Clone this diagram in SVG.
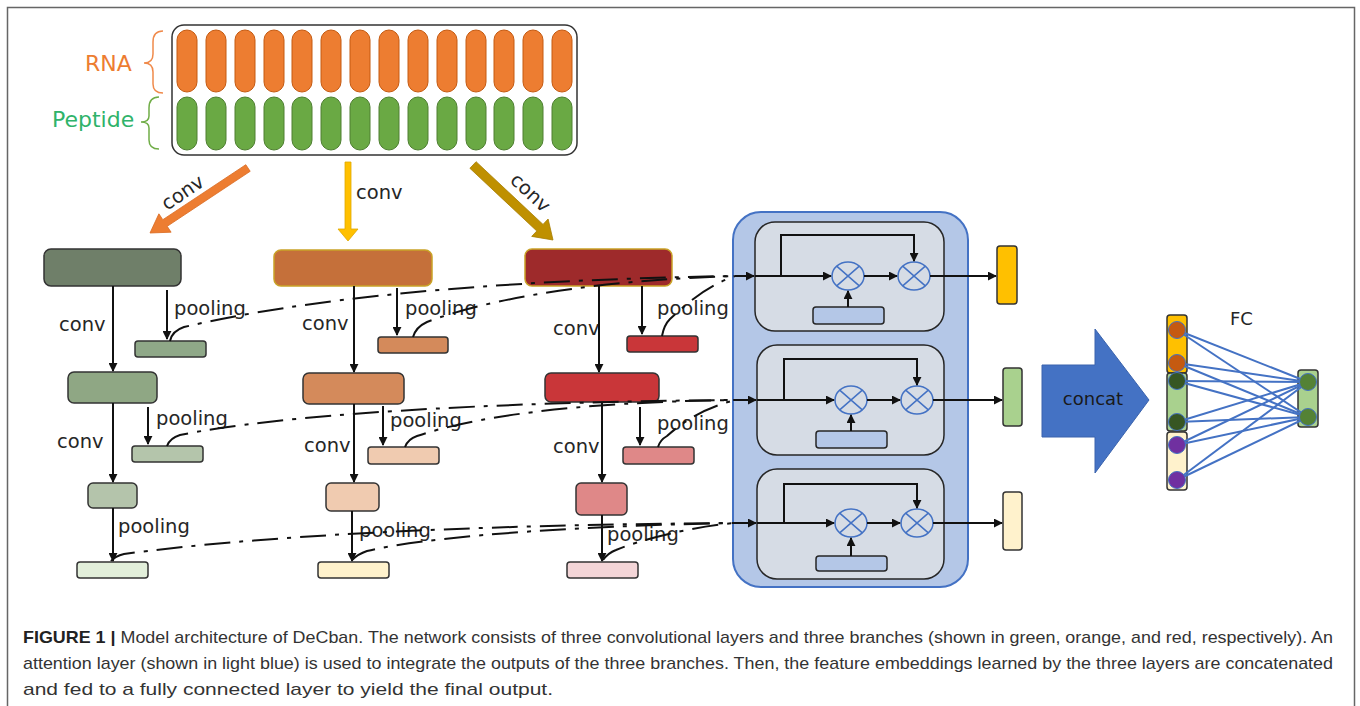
<svg xmlns="http://www.w3.org/2000/svg" width="1360" height="706" viewBox="0 0 1360 706">
<defs>
<style>
.lbl{font-family:"DejaVu Sans","Liberation Sans",sans-serif;font-size:19.5px;fill:#262626}
.box{stroke:#333;stroke-width:1.5}
.gold{stroke:#c9a227;stroke-width:1.5}
.arr{stroke:#111;stroke-width:2;fill:none;marker-end:url(#ah)}
.dd{stroke:#111;stroke-width:2;fill:none;stroke-dasharray:26 9 4 9}
.rna{fill:#ed7d31;stroke:#c55a11;stroke-width:1}
.pep{fill:#6aa944;stroke:#4e7f31;stroke-width:1}
.unit{fill:#d6dce5;stroke:#262626;stroke-width:1.5}
.att{fill:#b4c7e7;stroke:#262626;stroke-width:1.5}
.mul{fill:#d6dce5;stroke:#4472c4;stroke-width:1.5}
.fc{stroke:#4472c4;stroke-width:2}
.cap{font-family:"Liberation Sans Narrow","Liberation Sans",Arial,sans-serif;font-size:17px;fill:#333}
</style>
<marker id="ah" viewBox="0 0 10 10" refX="9" refY="5" markerWidth="4.5" markerHeight="4.5" orient="auto"><path d="M0,0 L10,5 L0,10 z" fill="#111"/></marker>
</defs>
<rect x="7.5" y="7.5" width="1347" height="720" fill="#fff" stroke="#666" stroke-width="1.5"/>

<g id="input">
<rect x="172" y="25" width="405" height="130" rx="12" fill="#fff" stroke="#333" stroke-width="1.5"/>
<g>
<rect class="rna" x="177" y="30" width="20" height="62" rx="10"/><rect class="rna" x="206" y="30" width="20" height="62" rx="10"/><rect class="rna" x="235" y="30" width="20" height="62" rx="10"/><rect class="rna" x="264" y="30" width="20" height="62" rx="10"/><rect class="rna" x="292" y="30" width="20" height="62" rx="10"/><rect class="rna" x="321" y="30" width="20" height="62" rx="10"/><rect class="rna" x="350" y="30" width="20" height="62" rx="10"/><rect class="rna" x="379" y="30" width="20" height="62" rx="10"/><rect class="rna" x="408" y="30" width="20" height="62" rx="10"/><rect class="rna" x="437" y="30" width="20" height="62" rx="10"/><rect class="rna" x="466" y="30" width="20" height="62" rx="10"/><rect class="rna" x="494" y="30" width="20" height="62" rx="10"/><rect class="rna" x="523" y="30" width="20" height="62" rx="10"/><rect class="rna" x="552" y="30" width="20" height="62" rx="10"/>
</g>
<g>
<rect class="pep" x="177" y="97" width="20" height="53" rx="10"/><rect class="pep" x="206" y="97" width="20" height="53" rx="10"/><rect class="pep" x="235" y="97" width="20" height="53" rx="10"/><rect class="pep" x="264" y="97" width="20" height="53" rx="10"/><rect class="pep" x="292" y="97" width="20" height="53" rx="10"/><rect class="pep" x="321" y="97" width="20" height="53" rx="10"/><rect class="pep" x="350" y="97" width="20" height="53" rx="10"/><rect class="pep" x="379" y="97" width="20" height="53" rx="10"/><rect class="pep" x="408" y="97" width="20" height="53" rx="10"/><rect class="pep" x="437" y="97" width="20" height="53" rx="10"/><rect class="pep" x="466" y="97" width="20" height="53" rx="10"/><rect class="pep" x="494" y="97" width="20" height="53" rx="10"/><rect class="pep" x="523" y="97" width="20" height="53" rx="10"/><rect class="pep" x="552" y="97" width="20" height="53" rx="10"/>
</g>
<path d="M163,31 C156,31 153,35 153,42 L153,54 C153,60 150,63 144,63 C150,63 153,66 153,72 L153,84 C153,90 156,93 163,93" fill="none" stroke="#f08a4b" stroke-width="1.5"/>
<path d="M159,97 C152,97 149,101 149,108 L149,116 C149,120 146,122 141,122 C146,122 149,124 149,128 L149,140 C149,146 152,149 159,149" fill="none" stroke="#70ad47" stroke-width="1.5"/>
<text x="85" y="71" style="font-family:'DejaVu Sans','Liberation Sans',sans-serif;font-size:22px;fill:#ed7d31">RNA</text>
<text x="52" y="127" style="font-family:'DejaVu Sans','Liberation Sans',sans-serif;font-size:22px;fill:#2fb36a">Peptide</text>
</g>

<g id="conv-arrows">
<polygon points="245.8,164.7 162.8,219.7 158.9,213.8 150,233 171.1,232.2 167.2,226.3 250.2,171.3" fill="#ed7d31" stroke="#d9691f" stroke-width="0.8"/>
<polygon points="345,162 345,229 338,229 348,241 358,229 351,229 351,162" fill="#ffc000" stroke="#e0a800" stroke-width="0.8"/>
<polygon points="476.1,161.7 543.0,224.4 548.1,219.0 553,240 531.7,236.4 536.8,231.0 469.9,168.3" fill="#bf9000" stroke="#a67c00" stroke-width="0.8"/>
<text class="lbl" text-anchor="middle" transform="translate(183,193) rotate(-34)" x="0" y="6">conv</text>
<text class="lbl" x="356" y="199">conv</text>
<text class="lbl" text-anchor="middle" transform="translate(530,193) rotate(43)" x="0" y="6">conv</text>
</g>

<g id="green-branch">
<rect class="box" x="44" y="249" width="137" height="37" rx="7" fill="#6f7f69"/>
<rect class="box" x="135" y="341" width="71" height="16" rx="3" fill="#8fa888"/>
<rect class="box" x="68" y="372" width="89" height="31" rx="6" fill="#8fa784"/>
<rect class="box" x="132" y="446" width="71" height="16" rx="3" fill="#b4c5ab"/>
<rect class="box" x="88" y="483" width="49" height="25" rx="5" fill="#b4c4ab"/>
<rect class="box" x="77" y="562" width="71" height="16" rx="3" fill="#e2efda"/>
</g>
<g id="orange-branch">
<rect class="gold" x="274" y="250" width="158" height="36" rx="7" fill="#c5703a"/>
<rect class="box" x="378" y="337" width="70" height="16" rx="3" fill="#d48a5b"/>
<rect class="box" x="303" y="373" width="101" height="31" rx="6" fill="#d48a5b"/>
<rect class="box" x="368" y="447" width="71" height="17" rx="3" fill="#f0cbb0"/>
<rect class="box" x="326" y="483" width="53" height="28" rx="5" fill="#f0cbb0"/>
<rect class="box" x="318" y="562" width="71" height="16" rx="3" fill="#fff2cc"/>
</g>
<g id="red-branch">
<rect class="gold" x="525" y="249" width="147" height="37" rx="7" fill="#9e2a2b"/>
<rect class="box" x="627" y="336" width="71" height="16" rx="3" fill="#c93639"/>
<rect class="box" x="545" y="373" width="114" height="29" rx="6" fill="#c93639"/>
<rect class="box" x="623" y="447" width="71" height="17" rx="3" fill="#df8888"/>
<rect class="box" x="576" y="483" width="51" height="32" rx="5" fill="#df8888"/>
<rect class="box" x="567" y="562" width="71" height="16" rx="3" fill="#f3d5d7"/>
</g>

<g id="branch-labels">
<text class="lbl" x="59" y="331">conv</text>
<text class="lbl" x="174" y="315">pooling</text>
<text class="lbl" x="57" y="448">conv</text>
<text class="lbl" x="156" y="425">pooling</text>
<text class="lbl" x="118" y="533">pooling</text>
<text class="lbl" x="302" y="330">conv</text>
<text class="lbl" x="405" y="315">pooling</text>
<text class="lbl" x="304" y="452">conv</text>
<text class="lbl" x="390" y="427">pooling</text>
<text class="lbl" x="359" y="537">pooling</text>
<text class="lbl" x="553" y="335">conv</text>
<text class="lbl" x="657" y="315">pooling</text>
<text class="lbl" x="553" y="453">conv</text>
<text class="lbl" x="657" y="430">pooling</text>
<text class="lbl" x="607" y="541">pooling</text>
</g>

<g id="attention">
<rect x="733" y="212" width="235" height="375" rx="28" fill="#b4c7e7" stroke="#4472c4" stroke-width="2"/>
<g id="unit1">
<rect class="unit" x="755" y="222" width="189" height="109" rx="20"/>
<rect class="att" x="813" y="307" width="71" height="17" rx="3"/>
<ellipse class="mul" cx="848" cy="276" rx="16" ry="14"/><path d="M836.7,266.1 L859.3,285.9 M836.7,285.9 L859.3,266.1" stroke="#4472c4" stroke-width="1.5"/>
<ellipse class="mul" cx="914" cy="276" rx="16" ry="14"/><path d="M902.7,266.1 L925.3,285.9 M902.7,285.9 L925.3,266.1" stroke="#4472c4" stroke-width="1.5"/>
</g>
<g id="unit2">
<rect class="unit" x="757" y="345" width="187" height="110" rx="20"/>
<rect class="att" x="816" y="431" width="71" height="17" rx="3"/>
<ellipse class="mul" cx="851" cy="400" rx="16" ry="14"/><path d="M839.7,390.1 L862.3,409.9 M839.7,409.9 L862.3,390.1" stroke="#4472c4" stroke-width="1.5"/>
<ellipse class="mul" cx="917" cy="400" rx="16" ry="14"/><path d="M905.7,390.1 L928.3,409.9 M905.7,409.9 L928.3,390.1" stroke="#4472c4" stroke-width="1.5"/>
</g>
<g id="unit3">
<rect class="unit" x="757" y="469" width="187" height="110" rx="20"/>
<rect class="att" x="816" y="556" width="71" height="15" rx="3"/>
<ellipse class="mul" cx="851" cy="523" rx="16" ry="14"/><path d="M839.7,513.1 L862.3,532.9 M839.7,532.9 L862.3,513.1" stroke="#4472c4" stroke-width="1.5"/>
<ellipse class="mul" cx="917" cy="523" rx="16" ry="14"/><path d="M905.7,513.1 L928.3,532.9 M905.7,532.9 L928.3,513.1" stroke="#4472c4" stroke-width="1.5"/>
</g>
</g>

<g id="outputs">
<rect class="box" x="997" y="246" width="20" height="58" rx="3" fill="#ffc000"/>
<rect class="box" x="1003" y="368" width="19" height="58" rx="3" fill="#a9d18e"/>
<rect class="box" x="1003" y="492" width="19" height="58" rx="3" fill="#fff2cc"/>
</g>

<g id="concat">
<polygon points="1042,365 1095,365 1095,329 1149,400 1095,473 1095,437 1042,437" fill="#4472c4" stroke="#3a63ad" stroke-width="1"/>
<text x="1093" y="405" text-anchor="middle" style="font-family:'DejaVu Sans','Liberation Sans',sans-serif;font-size:18px;fill:#1a1a1a">concat</text>
</g>

<g id="fc">
<text x="1230" y="325" style="font-family:'DejaVu Sans','Liberation Sans',sans-serif;font-size:18px;fill:#262626">FC</text>
<rect class="box" x="1167" y="315" width="20" height="58" rx="3" fill="#ffc000"/>
<rect class="box" x="1167" y="373" width="20" height="58" rx="3" fill="#a9d18e"/>
<rect class="box" x="1167" y="432" width="20" height="58" rx="3" fill="#fff2cc"/>
<rect class="box" x="1298" y="370" width="20" height="57" rx="3" fill="#a9d18e"/>
<g class="fc">
<line x1="1177" y1="330" x2="1308" y2="382"/><line x1="1177" y1="330" x2="1308" y2="417"/>
<line x1="1177" y1="363" x2="1308" y2="382"/><line x1="1177" y1="363" x2="1308" y2="417"/>
<line x1="1177" y1="381" x2="1308" y2="382"/><line x1="1177" y1="381" x2="1308" y2="417"/>
<line x1="1177" y1="422" x2="1308" y2="382"/><line x1="1177" y1="422" x2="1308" y2="417"/>
<line x1="1177" y1="445" x2="1308" y2="382"/><line x1="1177" y1="445" x2="1308" y2="417"/>
<line x1="1177" y1="480" x2="1308" y2="382"/><line x1="1177" y1="480" x2="1308" y2="417"/>
</g>
<g stroke="#4472c4" stroke-width="1">
<circle cx="1177" cy="330" r="8.5" fill="#c55a11"/><circle cx="1177" cy="363" r="8.5" fill="#c55a11"/>
<circle cx="1177" cy="381" r="8.5" fill="#375623"/><circle cx="1177" cy="422" r="8.5" fill="#375623"/>
<circle cx="1177" cy="445" r="8.5" fill="#7030a0"/><circle cx="1177" cy="480" r="8.5" fill="#7030a0"/>
<circle cx="1308" cy="382" r="8.5" fill="#548235"/><circle cx="1308" cy="417" r="8.5" fill="#548235"/>
</g>
</g>

<g id="connectors">
<line class="arr" x1="113" y1="286" x2="113" y2="371"/>
<line class="arr" x1="167" y1="290" x2="167" y2="339"/>
<line class="arr" x1="113" y1="403" x2="113" y2="482"/>
<line class="arr" x1="148" y1="407" x2="148" y2="444"/>
<line class="arr" x1="113" y1="508" x2="113" y2="561"/>
<line class="arr" x1="354" y1="286" x2="354" y2="372"/>
<line class="arr" x1="397" y1="288" x2="397" y2="335"/>
<line class="arr" x1="354" y1="404" x2="354" y2="482"/>
<line class="arr" x1="383" y1="406" x2="383" y2="445"/>
<line class="arr" x1="352" y1="511" x2="352" y2="561"/>
<line class="arr" x1="599" y1="286" x2="599" y2="372"/>
<line class="arr" x1="642" y1="286" x2="642" y2="334"/>
<line class="arr" x1="602" y1="402" x2="602" y2="482"/>
<line class="arr" x1="640" y1="407" x2="640" y2="445"/>
<line class="arr" x1="602" y1="515" x2="602" y2="561"/>

<path class="dd" d="M170,341 Q172,331 184,327 C300,300 480,280 735,276"/>
<path class="dd" d="M413,337 Q416,327 427,322 C490,298 600,280 735,276"/>
<path class="dd" d="M662,336 Q664,325 670,319 C690,300 710,285 735,276"/>
<path class="dd" d="M167,446 Q170,438 180,435 C280,415 480,402 735,400"/>
<path class="dd" d="M405,447 Q408,439 417,436 C470,418 570,402 735,400"/>
<path class="dd" d="M658,447 Q660,440 667,436 C685,420 705,408 735,400"/>
<path class="dd" d="M111,561 Q115,556 124,554 C250,537 450,525 735,523"/>
<path class="dd" d="M352,560 Q358,554 367,551 C420,538 560,526 735,523"/>
<path class="dd" d="M603,560 Q608,553 616,550 C640,540 690,527 735,523"/>

<line class="arr" x1="735" y1="276" x2="754" y2="276"/>
<line class="arr" x1="735" y1="400" x2="756" y2="400"/>
<line class="arr" x1="735" y1="523" x2="756" y2="523"/>

<line class="arr" x1="755" y1="276" x2="831" y2="276"/>
<path class="arr" d="M781,276 L781,235 L914,235 L914,261"/>
<line class="arr" x1="864" y1="276" x2="897" y2="276"/>
<line class="arr" x1="930" y1="276" x2="996" y2="276"/>
<line class="arr" x1="848" y1="307" x2="848" y2="291"/>

<line class="arr" x1="757" y1="400" x2="834" y2="400"/>
<path class="arr" d="M784,400 L784,359 L917,359 L917,385"/>
<line class="arr" x1="867" y1="400" x2="900" y2="400"/>
<line class="arr" x1="933" y1="400" x2="1002" y2="400"/>
<line class="arr" x1="851" y1="431" x2="851" y2="415"/>

<line class="arr" x1="757" y1="523" x2="834" y2="523"/>
<path class="arr" d="M784,523 L784,484 L917,484 L917,508"/>
<line class="arr" x1="867" y1="523" x2="900" y2="523"/>
<line class="arr" x1="933" y1="523" x2="1002" y2="523"/>
<line class="arr" x1="851" y1="556" x2="851" y2="538"/>
</g>

<g id="caption">
<text class="cap" x="23" y="643" textLength="1310" lengthAdjust="spacingAndGlyphs"><tspan font-weight="bold" fill="#222">FIGURE 1 |</tspan> Model architecture of DeCban. The network consists of three convolutional layers and three branches (shown in green, orange, and red, respectively). An</text>
<text class="cap" x="23" y="669" textLength="1310" lengthAdjust="spacingAndGlyphs">attention layer (shown in light blue) is used to integrate the outputs of the three branches. Then, the feature embeddings learned by the three layers are concatenated</text>
<text class="cap" x="23" y="695" textLength="530" lengthAdjust="spacingAndGlyphs">and fed to a fully connected layer to yield the final output.</text>
</g>
</svg>
